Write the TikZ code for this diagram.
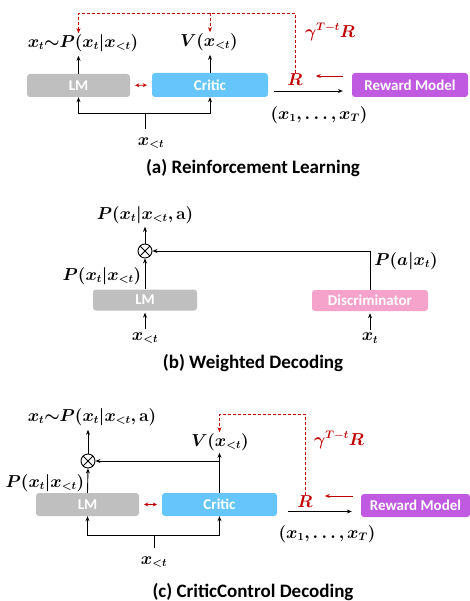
\documentclass[tikz,border=0pt]{standalone}
\usepackage{fontspec}
\setmainfont{Carlito}
\usepackage{amsmath,bm}
\usetikzlibrary{arrows.meta,positioning}

\definecolor{lmgray}{HTML}{BFBFBF}
\definecolor{criticblue}{HTML}{66C6FC}
\definecolor{rewardpurple}{HTML}{C05AE0}
\definecolor{discpink}{HTML}{F5A3CB}
\definecolor{rewardred}{HTML}{C00000}

\tikzset{
  block/.style={rectangle, rounded corners=3pt, text=white, inner sep=0pt,
    font=\fontsize{15}{17}\selectfont\bfseries},
  lmbox/.style={block, fill=lmgray},
  criticbox/.style={block, fill=criticblue},
  rewardbox/.style={block, fill=rewardpurple},
  discbox/.style={block, fill=discpink},
  lab/.style={font=\fontsize{16}{19}\selectfont, inner sep=1pt},
  redlab/.style={lab, text=rewardred},
  caption/.style={font=\fontsize{19}{22}\selectfont\bfseries},
  line/.style={line width=0.9pt},
  arr/.style={line, -{Stealth[length=5pt,width=4pt]}},
  redarr/.style={arr, draw=rewardred},
  redboth/.style={line, draw=rewardred, {Stealth[length=4pt,width=4pt]}-{Stealth[length=4pt,width=4pt]}},
  reddash/.style={redarr, dash pattern=on 3pt off 2pt},
  mult/.style={circle, draw, line width=0.9pt, minimum size=14pt, inner sep=0pt,
    path picture={\draw[line width=0.9pt] (path picture bounding box.north west) -- (path picture bounding box.south east)
      (path picture bounding box.north east) -- (path picture bounding box.south west);}}
}

\begin{document}
\begin{tikzpicture}[x=1pt,y=-1pt]
  \useasboundingbox (0,0) rectangle (470,601);

  % (a) reinforcement learning
  \node [lmbox, minimum width=103pt, minimum height=23pt] (lma) at (78.5,85.5) {LM};
  \node [criticbox, minimum width=116pt, minimum height=24pt] (critica) at (210,85) {Critic};
  \node [rewardbox, minimum width=116pt, minimum height=24pt] (rma) at (410,85) {Reward Model};

  \node [lab] (pa) at (83,43) {$\bm{x_t{\sim}P(x_t|x_{<t})}$};
  \node [lab] (va) at (209,42) {$\bm{V(x_{<t})}$};
  \node [redlab] (ga) at (330,32) {$\bm{\gamma^{T-t}R}$};
  \node [redlab] (ra) at (295,80) {$\bm{R}$};
  \node [lab] (sa) at (319,115) {$\bm{(x_1,\ldots,x_T)}$};
  \node [lab] (xa) at (151,143) {$\bm{x_{<t}}$};
  \node [caption] (capa) at (253,168) {(a) Reinforcement Learning};

  \draw [arr, shorten >=3pt] (lma.north) -- (lma.north |- pa.south);
  \draw [arr, shorten >=3pt] (critica.north) -- (critica.north |- va.south);
  \draw [redboth, shorten <=5pt, shorten >=5pt] (lma.east) -- (critica.west);
  \draw [arr, shorten <=6pt, shorten >=9pt] ([yshift=-6pt]critica.east) -- ([yshift=-6pt]rma.west);
  \draw [redarr] ([xshift=-9pt,yshift=9pt]rma.west) -- ++(-27,0);

  \coordinate (ta) at (0,13);
  \draw [reddash] (ra.north) -- (ra.north |- ta) -| (lma.north |- pa.north);
  \draw [reddash] (critica.north |- ta) -- (critica.north |- va.north);

  \coordinate (ja) at (145,113);
  \draw [line, shorten <=7pt] (ja |- xa.north) -- (ja);
  \draw [arr] (ja) -| (lma.south);
  \draw [arr] (ja) -| (critica.south);

  % (b) weighted decoding
  \node [lab] (pb) at (145,215) {$\bm{P(x_t|x_{<t},\mathbf{a})}$};
  \node [mult] (ob) at (145,251) {};
  \node [lmbox, minimum width=104pt, minimum height=21pt] (lmb) at (145,300) {LM};
  \node [discbox, minimum width=116pt, minimum height=21pt] (discb) at (370,300.5) {Discriminator};
  \node [lab] (plb) at (102,276) {$\bm{P(x_t|x_{<t})}$};
  \node [lab] (pdb) at (406,261) {$\bm{P(a|x_t)}$};
  \node [lab] (xlb) at (145,338) {$\bm{x_{<t}}$};
  \node [lab] (xtb) at (370,338) {$\bm{x_t}$};
  \node [caption] (capb) at (253,363) {(b) Weighted Decoding};

  \draw [arr, shorten >=2pt] (ob.north) -- (pb.south);
  \draw [arr] (lmb.north) -- (ob.south);
  \draw [arr] (discb.north) |- (ob.east);
  \draw [arr, shorten <=2pt, shorten >=2pt] (xlb.north) -- (lmb.south);
  \draw [arr, shorten <=2pt, shorten >=2pt] (xtb.north) -- (discb.south);

  % (c) criticcontrol decoding
  \node [lmbox, minimum width=103pt, minimum height=23pt] (lmc) at (87.5,504.5) {LM};
  \node [criticbox, minimum width=115pt, minimum height=23pt] (criticc) at (219.5,504.5) {Critic};
  \node [rewardbox, minimum width=109pt, minimum height=23pt] (rmc) at (415.5,505.5) {Reward Model};
  \node [mult] (oc) at (88,461) {};

  \node [lab] (pc) at (92,417) {$\bm{x_t{\sim}P(x_t|x_{<t},\mathbf{a})}$};
  \node [lab] (vc) at (220,442) {$\bm{V(x_{<t})}$};
  \node [lab] (plc) at (45,483) {$\bm{P(x_t|x_{<t})}$};
  \node [redlab] (gc) at (339,440) {$\bm{\gamma^{T-t}R}$};
  \node [redlab] (rc) at (305,502) {$\bm{R}$};
  \node [lab] (sc) at (327,534) {$\bm{(x_1,\ldots,x_T)}$};
  \node [lab] (xc) at (154,562) {$\bm{x_{<t}}$};
  \node [caption] (capc) at (253,592) {(c) CriticControl Decoding};

  \draw [arr, shorten >=3pt] (oc.north) -- (oc.north |- pc.south);
  \draw [arr] (lmc.north) -- (oc.south);
  \draw [arr, shorten >=1pt] (criticc.north) -- (criticc.north |- vc.south);
  \coordinate (jv) at (219.5,461);
  \draw [arr] (jv) -- (oc.east);
  \draw [redboth, shorten <=5pt, shorten >=5pt] (lmc.east) -- (criticc.west);
  \draw [arr, shorten <=11pt, shorten >=9pt] ([yshift=-7pt]criticc.east) -- ([yshift=-6pt]rmc.west);
  \draw [redarr] ([xshift=-8pt,yshift=9.5pt]rmc.west) -- ++(-28,0);

  \coordinate (tc) at (0,414);
  \draw [reddash] (rc.north) -- (rc.north |- tc) -| (criticc.north |- vc.north);

  \coordinate (jc) at (154,535);
  \draw [line, shorten <=7pt] (jc |- xc.north) -- (jc);
  \draw [arr] (jc) -| (lmc.south);
  \draw [arr] (jc) -| (criticc.south);
\end{tikzpicture}
\end{document}
